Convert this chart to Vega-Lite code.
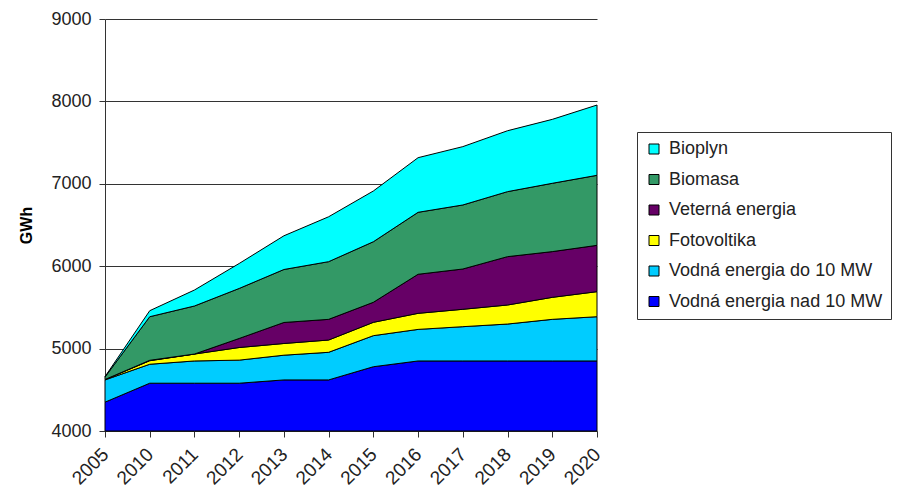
{
  "$schema": "https://vega.github.io/schema/vega-lite/v6.json",
  "autosize": "none",
  "width": 492,
  "height": 412,
  "padding": {"left": 105, "top": 19, "right": 302, "bottom": 60},
  "background": "white",
  "config": {
    "font": "Liberation Sans",
    "view": {"stroke": null}
  },
  "datasets": {
    "poradie": [
      {"zdroj": "Vodná energia nad 10 MW", "poradie": 1},
      {"zdroj": "Vodná energia do 10 MW", "poradie": 2},
      {"zdroj": "Fotovoltika", "poradie": 3},
      {"zdroj": "Veterná energia", "poradie": 4},
      {"zdroj": "Biomasa", "poradie": 5},
      {"zdroj": "Bioplyn", "poradie": 6}
    ],
    "vyroba": [
      {"rok": "2005", "zdroj": "Vodná energia nad 10 MW", "GWh": 4350},
      {"rok": "2010", "zdroj": "Vodná energia nad 10 MW", "GWh": 4580},
      {"rok": "2011", "zdroj": "Vodná energia nad 10 MW", "GWh": 4580},
      {"rok": "2012", "zdroj": "Vodná energia nad 10 MW", "GWh": 4580},
      {"rok": "2013", "zdroj": "Vodná energia nad 10 MW", "GWh": 4620},
      {"rok": "2014", "zdroj": "Vodná energia nad 10 MW", "GWh": 4620},
      {"rok": "2015", "zdroj": "Vodná energia nad 10 MW", "GWh": 4780},
      {"rok": "2016", "zdroj": "Vodná energia nad 10 MW", "GWh": 4850},
      {"rok": "2017", "zdroj": "Vodná energia nad 10 MW", "GWh": 4850},
      {"rok": "2018", "zdroj": "Vodná energia nad 10 MW", "GWh": 4850},
      {"rok": "2019", "zdroj": "Vodná energia nad 10 MW", "GWh": 4850},
      {"rok": "2020", "zdroj": "Vodná energia nad 10 MW", "GWh": 4850},
      {"rok": "2005", "zdroj": "Vodná energia do 10 MW", "GWh": 270},
      {"rok": "2010", "zdroj": "Vodná energia do 10 MW", "GWh": 230},
      {"rok": "2011", "zdroj": "Vodná energia do 10 MW", "GWh": 270},
      {"rok": "2012", "zdroj": "Vodná energia do 10 MW", "GWh": 280},
      {"rok": "2013", "zdroj": "Vodná energia do 10 MW", "GWh": 300},
      {"rok": "2014", "zdroj": "Vodná energia do 10 MW", "GWh": 335},
      {"rok": "2015", "zdroj": "Vodná energia do 10 MW", "GWh": 377},
      {"rok": "2016", "zdroj": "Vodná energia do 10 MW", "GWh": 383},
      {"rok": "2017", "zdroj": "Vodná energia do 10 MW", "GWh": 416},
      {"rok": "2018", "zdroj": "Vodná energia do 10 MW", "GWh": 448},
      {"rok": "2019", "zdroj": "Vodná energia do 10 MW", "GWh": 505},
      {"rok": "2020", "zdroj": "Vodná energia do 10 MW", "GWh": 537},
      {"rok": "2005", "zdroj": "Fotovoltika", "GWh": 5},
      {"rok": "2010", "zdroj": "Fotovoltika", "GWh": 43},
      {"rok": "2011", "zdroj": "Fotovoltika", "GWh": 84},
      {"rok": "2012", "zdroj": "Fotovoltika", "GWh": 153},
      {"rok": "2013", "zdroj": "Fotovoltika", "GWh": 142},
      {"rok": "2014", "zdroj": "Fotovoltika", "GWh": 149},
      {"rok": "2015", "zdroj": "Fotovoltika", "GWh": 162},
      {"rok": "2016", "zdroj": "Fotovoltika", "GWh": 195},
      {"rok": "2017", "zdroj": "Fotovoltika", "GWh": 211},
      {"rok": "2018", "zdroj": "Fotovoltika", "GWh": 231},
      {"rok": "2019", "zdroj": "Fotovoltika", "GWh": 267},
      {"rok": "2020", "zdroj": "Fotovoltika", "GWh": 304},
      {"rok": "2005", "zdroj": "Veterná energia", "GWh": 0},
      {"rok": "2010", "zdroj": "Veterná energia", "GWh": 5},
      {"rok": "2011", "zdroj": "Veterná energia", "GWh": 0},
      {"rok": "2012", "zdroj": "Veterná energia", "GWh": 110},
      {"rok": "2013", "zdroj": "Veterná energia", "GWh": 255},
      {"rok": "2014", "zdroj": "Veterná energia", "GWh": 251},
      {"rok": "2015", "zdroj": "Veterná energia", "GWh": 243},
      {"rok": "2016", "zdroj": "Veterná energia", "GWh": 474},
      {"rok": "2017", "zdroj": "Veterná energia", "GWh": 489},
      {"rok": "2018", "zdroj": "Veterná energia", "GWh": 587},
      {"rok": "2019", "zdroj": "Veterná energia", "GWh": 555},
      {"rok": "2020", "zdroj": "Veterná energia", "GWh": 562},
      {"rok": "2005", "zdroj": "Biomasa", "GWh": 30},
      {"rok": "2010", "zdroj": "Biomasa", "GWh": 529},
      {"rok": "2011", "zdroj": "Biomasa", "GWh": 583},
      {"rok": "2012", "zdroj": "Biomasa", "GWh": 607},
      {"rok": "2013", "zdroj": "Biomasa", "GWh": 643},
      {"rok": "2014", "zdroj": "Biomasa", "GWh": 700},
      {"rok": "2015", "zdroj": "Biomasa", "GWh": 735},
      {"rok": "2016", "zdroj": "Biomasa", "GWh": 752},
      {"rok": "2017", "zdroj": "Biomasa", "GWh": 777},
      {"rok": "2018", "zdroj": "Biomasa", "GWh": 789},
      {"rok": "2019", "zdroj": "Biomasa", "GWh": 829},
      {"rok": "2020", "zdroj": "Biomasa", "GWh": 850},
      {"rok": "2005", "zdroj": "Bioplyn", "GWh": 5},
      {"rok": "2010", "zdroj": "Bioplyn", "GWh": 73},
      {"rok": "2011", "zdroj": "Bioplyn", "GWh": 194},
      {"rok": "2012", "zdroj": "Bioplyn", "GWh": 303},
      {"rok": "2013", "zdroj": "Bioplyn", "GWh": 409},
      {"rok": "2014", "zdroj": "Bioplyn", "GWh": 545},
      {"rok": "2015", "zdroj": "Bioplyn", "GWh": 616},
      {"rok": "2016", "zdroj": "Bioplyn", "GWh": 663},
      {"rok": "2017", "zdroj": "Bioplyn", "GWh": 708},
      {"rok": "2018", "zdroj": "Bioplyn", "GWh": 739},
      {"rok": "2019", "zdroj": "Bioplyn", "GWh": 776},
      {"rok": "2020", "zdroj": "Bioplyn", "GWh": 853}
    ]
  },
  "data": {"name": "vyroba"},
  "transform": [
    {"lookup": "zdroj", "from": {"data": {"name": "poradie"}, "key": "zdroj", "fields": ["poradie"]}}
  ],
  "mark": {"type": "area", "stroke": "#000000", "strokeWidth": 1, "opacity": 1, "fillOpacity": 1},
  "encoding": {
    "x": {
      "field": "rok",
      "type": "ordinal",
      "scale": {"type": "point", "padding": 0},
      "axis": {
        "title": null,
        "labelAngle": -45,
        "labelFontSize": 19,
        "labelColor": "#222222",
        "labelAlign": "right",
        "labelBaseline": "middle",
        "labelPadding": 14,
        "tickColor": "#333333",
        "tickSize": 6,
        "domainColor": "#333333",
        "grid": false
      }
    },
    "y": {
      "field": "GWh",
      "type": "quantitative",
      "stack": "zero",
      "scale": {"domain": [4000, 9000], "clamp": true},
      "axis": {
        "title": "GWh",
        "titleFontSize": 16,
        "titleFontWeight": "bold",
        "titleColor": "#000000",
        "titlePadding": 16,
        "values": [4000, 5000, 6000, 7000, 8000, 9000],
        "format": "d",
        "labelFontSize": 18,
        "labelColor": "#222222",
        "labelPadding": 8,
        "tickSize": 6,
        "tickColor": "#333333",
        "domainColor": "#333333",
        "gridColor": "#333333",
        "gridWidth": 1
      }
    },
    "color": {
      "field": "zdroj",
      "type": "nominal",
      "scale": {
        "domain": ["Vodná energia nad 10 MW", "Vodná energia do 10 MW", "Fotovoltika", "Veterná energia", "Biomasa", "Bioplyn"],
        "range": ["#0000FF", "#00CCFF", "#FFFF00", "#660066", "#339966", "#00FFFF"]
      },
      "legend": {
        "title": null,
        "orient": "none",
        "legendX": 532,
        "legendY": 113,
        "values": ["Bioplyn", "Biomasa", "Veterná energia", "Fotovoltika", "Vodná energia do 10 MW", "Vodná energia nad 10 MW"],
        "strokeColor": "#333333",
        "padding": 8,
        "symbolType": "square",
        "symbolSize": 100,
        "symbolStrokeColor": "#000000",
        "symbolStrokeWidth": 1,
        "symbolOpacity": 1,
        "labelFontSize": 18,
        "labelColor": "#222222",
        "labelOffset": 6,
        "rowPadding": 12.5,
        "labelLimit": 300
      }
    },
    "order": {"field": "poradie", "type": "quantitative", "sort": "ascending"}
  }
}
